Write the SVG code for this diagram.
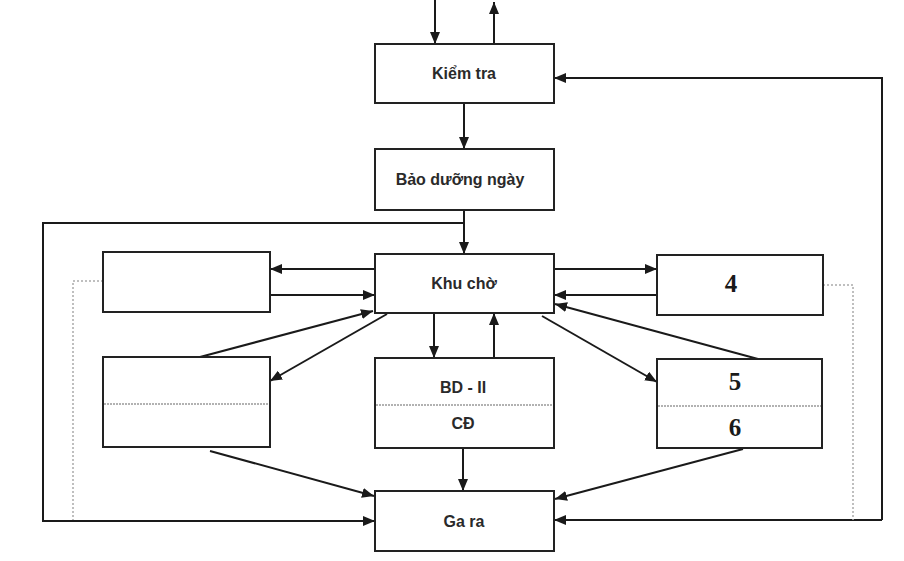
<svg xmlns="http://www.w3.org/2000/svg" width="904" height="561" viewBox="0 0 904 561">
<defs>
<marker id="ah" viewBox="0 0 12 10" refX="12" refY="5" markerWidth="12" markerHeight="10" markerUnits="userSpaceOnUse" orient="auto">
<path d="M0,0 L12,5 L0,10 z" fill="#1a1a1a"/>
</marker>
<style>
.box{fill:#fff;stroke:#222;stroke-width:2}
.div{stroke:#999;stroke-width:1.5;stroke-dasharray:2 1}
.lbl{font-family:"Liberation Sans",Arial,sans-serif;font-size:16px;font-weight:bold;fill:#2a2a2a;text-anchor:middle}
.num{font-family:"Liberation Serif","Times New Roman",serif;font-size:25px;font-weight:bold;fill:#1a1a1a;text-anchor:middle}
.ln{fill:none;stroke:#1a1a1a;stroke-width:2}
.arr{fill:none;stroke:#1a1a1a;stroke-width:2;marker-end:url(#ah)}
.dot{fill:none;stroke:#aaa;stroke-width:1.5;stroke-dasharray:2 2}
</style>
</defs>
<rect width="904" height="561" fill="#fff"/>
<g id="connectors">
<path class="arr" d="M435,0 L435,44"/>
<path class="arr" d="M494,44 L494,2"/>
<path class="arr" d="M464,103 L464,149"/>
<path class="arr" d="M464,210 L464,254"/>
<path class="arr" d="M464,223 L43,223 L43,521 L375,521"/>
<path class="arr" d="M882,520 L554,520"/>
<path class="arr" d="M882,520 L882,78 L554,78"/>
<path class="dot" d="M103,281 L73,281 L73,520"/>
<path class="dot" d="M823,285 L853,285 L853,520"/>
<path class="arr" d="M375,269 L270,269"/>
<path class="arr" d="M270,295 L375,295"/>
<path class="arr" d="M554,269 L657,269"/>
<path class="arr" d="M657,295 L554,295"/>
<path class="arr" d="M200,357 L373,311"/>
<path class="arr" d="M387,314 L270,381"/>
<path class="arr" d="M542,316 L657,382"/>
<path class="arr" d="M758,359 L555,304"/>
<path class="arr" d="M434,313 L434,358"/>
<path class="arr" d="M494,358 L494,313"/>
<path class="arr" d="M210,451 L374,496"/>
<path class="arr" d="M743,449 L555,499"/>
<path class="arr" d="M463,448 L463,491"/>
</g>
<g id="kiem-tra">
<rect class="box" x="375" y="44" width="179" height="59"/>
<text class="lbl" x="464" y="79">Kiểm tra</text>
</g>
<g id="bao-duong-ngay">
<rect class="box" x="375" y="149" width="179" height="61"/>
<text class="lbl" x="460" y="185">Bảo dưỡng ngày</text>
</g>
<g id="khu-cho">
<rect class="box" x="375" y="254" width="179" height="59"/>
<text class="lbl" x="464" y="289">Khu chờ</text>
</g>
<g id="box-left-top">
<rect class="box" x="103" y="252" width="167" height="60"/>
</g>
<g id="box-4">
<rect class="box" x="657" y="255" width="166" height="60"/>
<text class="num" x="731" y="292">4</text>
</g>
<g id="box-left-bottom">
<rect class="box" x="103" y="357" width="167" height="90"/>
<line class="div" x1="104" y1="404" x2="269" y2="404"/>
</g>
<g id="bd-ii-cd">
<rect class="box" x="375" y="358" width="179" height="90"/>
<line class="div" x1="376" y1="405" x2="553" y2="405"/>
<text class="lbl" x="463" y="393">BD - II</text>
<text class="lbl" x="463" y="429">CĐ</text>
</g>
<g id="box-5-6">
<rect class="box" x="657" y="359" width="165" height="89"/>
<line class="div" x1="658" y1="406" x2="821" y2="406"/>
<text class="num" x="735" y="390">5</text>
<text class="num" x="735" y="436">6</text>
</g>
<g id="ga-ra">
<rect class="box" x="375" y="491" width="179" height="60"/>
<text class="lbl" x="464" y="527">Ga ra</text>
</g>
</svg>
